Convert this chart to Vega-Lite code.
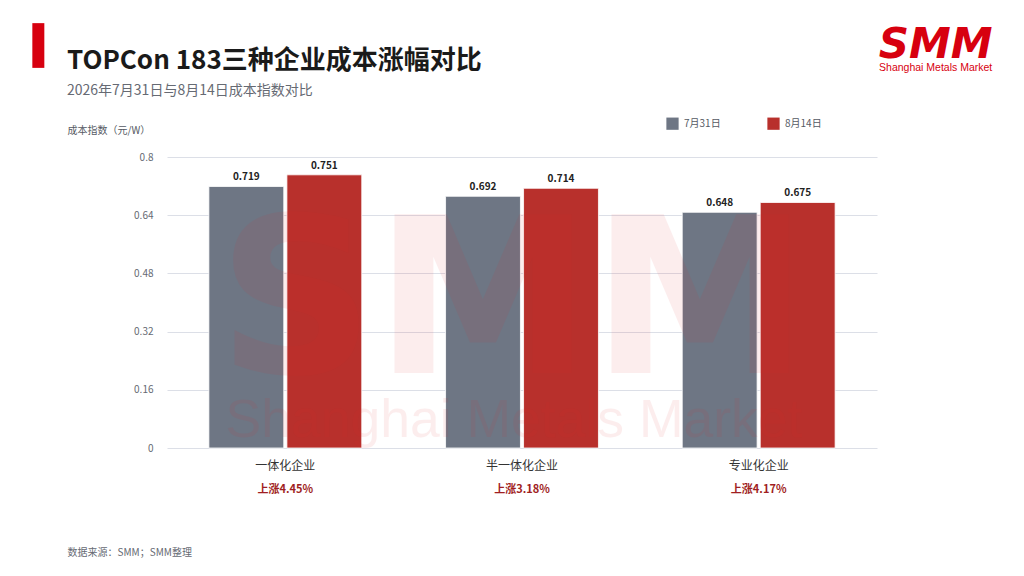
{
  "$schema": "https://vega.github.io/schema/vega-lite/v6.json",
  "autosize": {"type": "none"},
  "padding": {"left": 167, "top": 157, "right": 147, "bottom": 128},
  "width": 710,
  "height": 291,
  "background": "#ffffff",
  "config": {
    "view": {"stroke": null},
    "font": "Noto Sans CJK SC"
  },
  "title": {
    "text": "TOPCon 183三种企业成本涨幅对比",
    "subtitle": "2026年7月31日与8月14日成本指数对比",
    "anchor": "start",
    "frame": "group",
    "dx": -100,
    "offset": -81,
    "fontSize": 26,
    "fontWeight": "bold",
    "color": "#1a1a1a",
    "subtitleFontSize": 14,
    "subtitleColor": "#666a73",
    "subtitlePadding": 10
  },
  "data": {
    "values": [
      {"category": "一体化企业", "date": "7月31日", "value": 0.719, "change": "上涨4.45%"},
      {"category": "一体化企业", "date": "8月14日", "value": 0.751, "change": "上涨4.45%"},
      {"category": "半一体化企业", "date": "7月31日", "value": 0.692, "change": "上涨3.18%"},
      {"category": "半一体化企业", "date": "8月14日", "value": 0.714, "change": "上涨3.18%"},
      {"category": "专业化企业", "date": "7月31日", "value": 0.648, "change": "上涨4.17%"},
      {"category": "专业化企业", "date": "8月14日", "value": 0.675, "change": "上涨4.17%"}
    ]
  },
  "encoding": {
    "x": {
      "field": "category",
      "type": "nominal",
      "sort": null,
      "scale": {"paddingInner": 0.354, "paddingOuter": 0.177},
      "axis": {
        "title": "数据来源：SMM；SMM整理",
        "titleFontSize": 10,
        "titleFontWeight": "normal",
        "titleColor": "#666a73",
        "titleAnchor": "start",
        "titleAlign": "left",
        "titleBaseline": "middle",
        "titleX": -100,
        "titleY": 104,
        "labelAngle": 0,
        "labelFontSize": 12,
        "labelColor": "#333333",
        "labelPadding": 12,
        "domain": false,
        "ticks": false
      }
    },
    "y": {
      "field": "value",
      "type": "quantitative",
      "scale": {"domain": [0, 0.8], "nice": false},
      "axis": {
        "title": "成本指数（元/W）",
        "titleFontSize": 10,
        "titleFontWeight": "normal",
        "titleColor": "#555a63",
        "titleAngle": 0,
        "titleAlign": "left",
        "titleBaseline": "middle",
        "titleX": -100,
        "titleY": -27,
        "values": [0, 0.16, 0.32, 0.48, 0.64, 0.8],
        "format": ".2~f",
        "labelFontSize": 10,
        "labelColor": "#666a73",
        "labelPadding": 14,
        "domain": false,
        "ticks": false,
        "gridColor": "#dcdfe7",
        "gridWidth": 1
      }
    }
  },
  "layer": [
    {
      "mark": {"type": "bar", "stroke": "#ffffff", "strokeWidth": 0.8},
      "encoding": {
        "xOffset": {
          "field": "date",
          "type": "nominal",
          "sort": ["7月31日", "8月14日"],
          "scale": {"paddingInner": 0.04}
        },
        "color": {
          "field": "date",
          "type": "nominal",
          "scale": {"domain": ["7月31日", "8月14日"], "range": ["#6e7684", "#b8302c"]},
          "legend": {
            "title": null,
            "orient": "none",
            "legendX": 499,
            "legendY": -40,
            "direction": "horizontal",
            "padding": 0,
            "symbolType": "square",
            "symbolSize": 150,
            "symbolStrokeWidth": 0,
            "labelFontSize": 10,
            "labelColor": "#555a63",
            "labelOffset": 5,
            "columnPadding": 46
          }
        }
      }
    },
    {
      "mark": {"type": "text", "baseline": "bottom", "dy": -4, "fontSize": 10, "fontWeight": "bold", "color": "#222222"},
      "encoding": {
        "xOffset": {"field": "date", "type": "nominal", "sort": ["7月31日", "8月14日"], "scale": {"paddingInner": 0.04}},
        "text": {"field": "value", "type": "quantitative", "format": ".3f"}
      }
    },
    {
      "transform": [{"filter": "datum.date == '8月14日'"}],
      "mark": {"type": "text", "baseline": "middle", "dy": 42, "fontSize": 11, "fontWeight": "bold", "color": "#a01e22"},
      "encoding": {
        "y": {"datum": 0},
        "text": {"field": "change"}
      }
    },
    {
      "transform": [{"filter": "datum.category == '半一体化企业' && datum.date == '7月31日'"}],
      "mark": {"type": "text", "align": "center", "baseline": "alphabetic", "dx": -9, "fontSize": 218, "fontWeight": "bold", "font": "DejaVu Sans", "color": "#e0262a", "opacity": 0.08},
      "encoding": {
        "y": {"datum": 0.206},
        "text": {"value": "SMM"}
      }
    },
    {
      "transform": [{"filter": "datum.category == '半一体化企业' && datum.date == '7月31日'"}],
      "mark": {"type": "text", "align": "center", "baseline": "alphabetic", "dx": -8, "fontSize": 53.5, "font": "Liberation Sans", "color": "#e0262a", "opacity": 0.08},
      "encoding": {
        "y": {"datum": 0.03},
        "text": {"value": "Shanghai Metals Market"}
      }
    },
    {
      "transform": [{"filter": "datum.category == '专业化企业' && datum.date == '7月31日'"}],
      "mark": {"type": "text", "align": "center", "baseline": "alphabetic", "dx": 177, "fontSize": 42, "fontWeight": "bold", "fontStyle": "italic", "font": "DejaVu Sans", "color": "#d7000f"},
      "encoding": {
        "y": {"datum": 1.072},
        "text": {"value": "SMM"}
      }
    },
    {
      "transform": [{"filter": "datum.category == '专业化企业' && datum.date == '7月31日'"}],
      "mark": {"type": "text", "align": "center", "baseline": "alphabetic", "dx": 177, "fontSize": 10.5, "font": "Liberation Sans", "color": "#d7000f"},
      "encoding": {
        "y": {"datum": 1.036},
        "text": {"value": "Shanghai Metals Market"}
      }
    },
    {
      "transform": [{"filter": "datum.category == '一体化企业' && datum.date == '7月31日'"}],
      "mark": {"type": "rule", "strokeWidth": 12, "color": "#d7000f", "xOffset": -247},
      "encoding": {
        "y": {"datum": 1.168},
        "y2": {"datum": 1.045}
      }
    }
  ]
}
